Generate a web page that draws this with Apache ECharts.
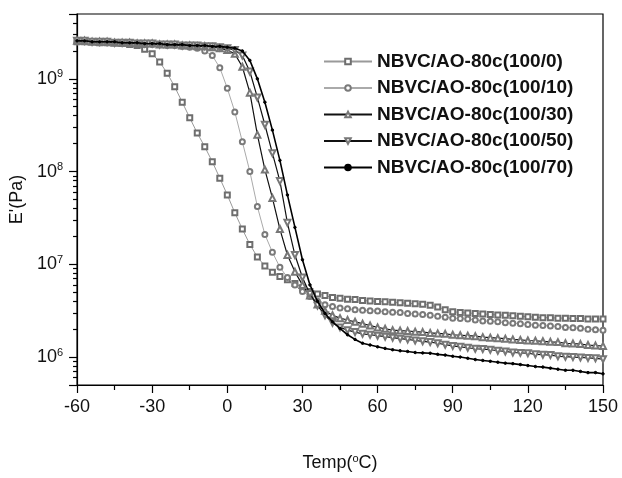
<!DOCTYPE html>
<html><head><meta charset="utf-8">
<script src="https://cdn.jsdelivr.net/npm/echarts@6/dist/echarts.min.js"></script>
<style>html,body{margin:0;padding:0;background:#fff}#c{width:622px;height:478px}</style>
</head><body><div id="c"></div>
<script>
const temps = [-60,-57,-54,-51,-48,-45,-42,-39,-36,-33,-30,-27,-24,-21,-18,-15,-12,-9,-6,-3,0,3,6,9,12,15,18,21,24,27,30,33,36,39,42,45,48,51,54,57,60,63,66,69,72,75,78,81,84,87,90,93,96,99,102,105,108,111,114,117,120,123,126,129,132,135,138,141,144,147,150];

const names = ['NBVC/AO-80c(100/0)','NBVC/AO-80c(100/10)','NBVC/AO-80c(100/30)','NBVC/AO-80c(100/50)','NBVC/AO-80c(100/70)'];

const s100_0 = [2.51e9,2.51e9,2.51e9,2.45e9,2.45e9,2.45e9,2.40e9,2.34e9,2.29e9,2.09e9,
1.86e9,1.52e9,1.15e9,8.2e8,5.6e8,3.8e8,2.6e8,1.85e8,1.28e8,8.5e7,
5.6e7,3.6e7,2.4e7,1.64e7,1.2e7,9.6e6,8.2e6,7.4e6,6.8e6,6.2e6,
5.6e6,5.1e6,4.8e6,4.6e6,4.4e6,4.3e6,4.2e6,4.17e6,4.07e6,4.03e6,
3.98e6,3.94e6,3.89e6,3.85e6,3.8e6,3.76e6,3.72e6,3.63e6,3.47e6,3.24e6,
3.09e6,3.02e6,2.99e6,2.95e6,2.92e6,2.88e6,2.85e6,2.82e6,2.79e6,2.75e6,
2.72e6,2.69e6,2.66e6,2.66e6,2.63e6,2.63e6,2.6e6,2.6e6,2.57e6,2.57e6,2.57e6];

const s100_10 = [2.51e9,2.51e9,2.51e9,2.45e9,2.45e9,2.45e9,2.40e9,2.40e9,2.40e9,2.34e9,
2.34e9,2.34e9,2.29e9,2.29e9,2.24e9,2.19e9,2.14e9,2.0e9,1.78e9,1.32e9,
7.9e8,4.4e8,2.1e8,1.0e8,4.2e7,2.1e7,1.35e7,9.3e6,7.2e6,6.0e6,
5.1e6,4.5e6,4.0e6,3.67e6,3.5e6,3.39e6,3.31e6,3.24e6,3.2e6,3.16e6,
3.13e6,3.09e6,3.05e6,3.02e6,2.95e6,2.92e6,2.88e6,2.82e6,2.75e6,2.69e6,
2.63e6,2.6e6,2.57e6,2.51e6,2.45e6,2.43e6,2.4e6,2.34e6,2.32e6,2.29e6,
2.24e6,2.21e6,2.19e6,2.16e6,2.14e6,2.09e6,2.07e6,2.04e6,2.0e6,1.97e6,1.95e6];

const s100_30 = [2.57e9,2.57e9,2.51e9,2.51e9,2.51e9,2.45e9,2.45e9,2.45e9,2.40e9,2.40e9,
2.40e9,2.34e9,2.34e9,2.34e9,2.29e9,2.29e9,2.24e9,2.24e9,2.19e9,2.14e9,
2.04e9,1.86e9,1.35e9,7.1e8,2.5e8,1.05e8,5.2e7,2.4e7,1.26e7,8.3e6,
6.0e6,4.6e6,3.7e6,3.16e6,2.82e6,2.63e6,2.51e6,2.4e6,2.29e6,2.19e6,
2.09e6,2.02e6,1.95e6,1.93e6,1.91e6,1.88e6,1.86e6,1.82e6,1.8e6,1.78e6,
1.74e6,1.72e6,1.7e6,1.68e6,1.64e6,1.62e6,1.6e6,1.58e6,1.55e6,1.53e6,
1.51e6,1.5e6,1.48e6,1.46e6,1.45e6,1.41e6,1.4e6,1.38e6,1.35e6,1.33e6,1.32e6];

const s100_50 = [2.57e9,2.57e9,2.51e9,2.51e9,2.51e9,2.45e9,2.45e9,2.45e9,2.40e9,2.40e9,
2.40e9,2.34e9,2.34e9,2.34e9,2.29e9,2.29e9,2.29e9,2.24e9,2.24e9,2.19e9,
2.14e9,2.04e9,1.78e9,1.2e9,6.3e8,3.2e8,1.58e8,7.9e7,2.8e7,1.26e7,
7.2e6,4.8e6,3.6e6,2.82e6,2.34e6,2.09e6,1.95e6,1.86e6,1.78e6,1.74e6,
1.7e6,1.66e6,1.62e6,1.58e6,1.55e6,1.51e6,1.48e6,1.45e6,1.41e6,1.36e6,
1.32e6,1.29e6,1.26e6,1.23e6,1.22e6,1.2e6,1.17e6,1.15e6,1.12e6,1.11e6,
1.1e6,1.07e6,1.06e6,1.05e6,1.02e6,1.01e6,1.0e6,9.9e5,9.8e5,9.7e5,9.5e5];

const s100_70 = [2.57e9,2.57e9,2.51e9,2.51e9,2.51e9,2.51e9,2.45e9,2.45e9,2.45e9,2.40e9,
2.40e9,2.40e9,2.34e9,2.34e9,2.34e9,2.29e9,2.29e9,2.29e9,2.24e9,2.24e9,
2.19e9,2.14e9,2.0e9,1.58e9,1.0e9,5.6e8,2.8e8,1.32e8,5.6e7,2.5e7,
1.12e7,6.0e6,4.0e6,2.95e6,2.4e6,2.04e6,1.74e6,1.55e6,1.41e6,1.35e6,
1.29e6,1.24e6,1.2e6,1.17e6,1.15e6,1.12e6,1.11e6,1.1e6,1.07e6,1.05e6,
1.02e6,1.0e6,9.7e5,9.4e5,9.2e5,9.0e5,8.8e5,8.6e5,8.5e5,8.3e5,
8.1e5,7.9e5,7.8e5,7.6e5,7.4e5,7.2e5,7.2e5,7.0e5,6.8e5,6.8e5,6.6e5];

const FONT = '"Liberation Sans", Arial, sans-serif';
const seriesValues = [s100_0, s100_10, s100_30, s100_50, s100_70];
const styles = [
  {symbol:'emptyRect', size:5, rot:0, line:'#9a9a9a', mk:'#6e6e6e', lw:1},
  {symbol:'emptyCircle', size:5, rot:0, line:'#aaaaaa', mk:'#7a7a7a', lw:1},
  {symbol:'emptyTriangle', size:6, rot:0, line:'#111', mk:'#777', lw:1.2},
  {symbol:'emptyTriangle', size:6, rot:180, line:'#111', mk:'#777', lw:1.2},
  {symbol:'circle', size:2.5, rot:0, line:'#000', mk:'#000', lw:1.6}
];

const series = seriesValues.map((vals, k) => ({
  name: names[k],
  type: 'line',
  data: temps.map((t, i) => [t, vals[i]]),
  symbol: styles[k].symbol,
  symbolSize: styles[k].size,
  symbolRotate: styles[k].rot,
  showAllSymbol: true,
  lineStyle: {color: styles[k].line, width: styles[k].lw},
  itemStyle: {color: styles[k].mk, borderColor: styles[k].mk, borderWidth: 1},
  emphasis: {disabled: true},
  z: 2 + k
}));

const tickStyle = {color: '#000', width: 1.2};
const chart = echarts.init(document.getElementById('c'), null, {renderer: 'canvas'});
chart.setOption({
  animation: false,
  backgroundColor: '#fff',
  textStyle: {fontFamily: FONT, color: '#000'},
  grid: {left: 77, right: 19, top: 14, bottom: 93, show: true, borderColor: '#000', borderWidth: 1.2, backgroundColor: 'transparent'},
  legend: {
    orient: 'vertical', left: 318, top: 47, itemGap: 7.5, itemWidth: 48, itemHeight: 7,
    textStyle: {fontFamily: FONT, fontSize: 19, fontWeight: 'bold', color: '#111'},
    data: names
  },
  xAxis: {
    type: 'value', min: -60, max: 150, interval: 30,
    name: 'Temp({s|o}C)', nameLocation: 'middle', nameGap: 68,
    nameTextStyle: {fontFamily: FONT, fontSize: 18, color: '#111', rich: {s: {fontSize: 11, padding: [0,0,9,0], fontFamily: FONT, color:'#111'}}},
    axisLine: {onZero: false, lineStyle: tickStyle},
    axisTick: {inside: false, length: 8, lineStyle: tickStyle},
    minorTick: {show: true, splitNumber: 2, length: 5, lineStyle: tickStyle},
    splitLine: {show: false},
    axisLabel: {fontFamily: FONT, fontSize: 18, color: '#111', margin: 13}
  },
  yAxis: {
    type: 'log', logBase: 10, min: 5e5, max: 5e9,
    name: "E'(Pa)", nameLocation: 'middle', nameGap: 45,
    nameTextStyle: {fontFamily: FONT, fontSize: 18, color: '#111'},
    axisLine: {onZero: false, lineStyle: tickStyle},
    axisTick: {inside: false, length: 8, lineStyle: tickStyle},
    minorTick: {show: true, splitNumber: 9, length: 4, lineStyle: tickStyle},
    splitLine: {show: false},
    axisLabel: {
      margin: 14, showMinLabel: false, showMaxLabel: false,
      formatter: v => '{b|10}{s|' + Math.round(Math.log10(v)) + '}',
      rich: {b: {fontFamily: FONT, fontSize: 18, color: '#111'}, s: {fontFamily: FONT, fontSize: 11, color: '#111', padding: [0,0,9,0]}}
    }
  },
  series: series
});
</script>
</body></html>
